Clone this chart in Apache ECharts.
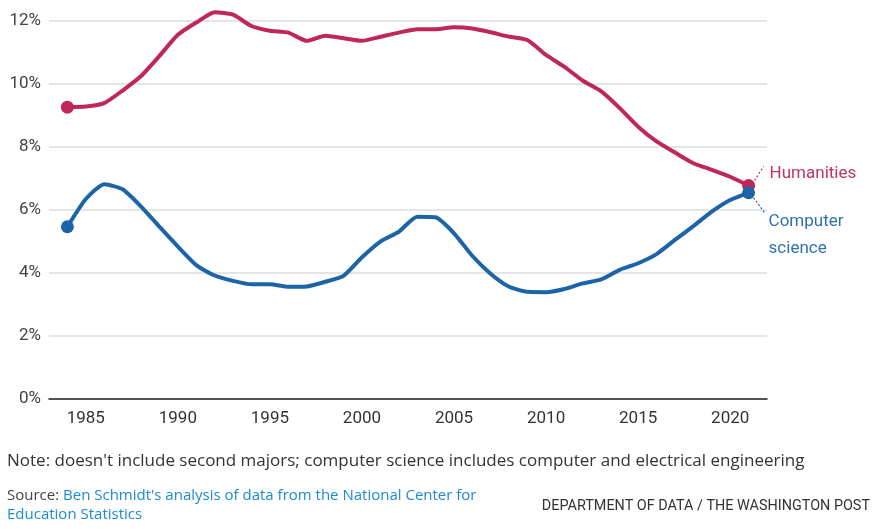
<!DOCTYPE html>
<html>
<head>
<meta charset="utf-8">
<script src="https://cdn.jsdelivr.net/npm/echarts@6/dist/echarts.min.js"></script>
<style>
html,body{margin:0;padding:0;background:#fff;}
#chart{width:877px;height:529px;}
</style>
</head>
<body>
<div id="chart"></div>
<script>
const years = [1984,1985,1986,1987,1988,1989,1990,1991,1992,1993,1994,1995,1996,1997,1998,1999,2000,2001,2002,2003,2004,2005,2006,2007,2008,2009,2010,2011,2012,2013,2014,2015,2016,2017,2018,2019,2020,2021];
const humanities = [9.26,9.28,9.39,9.79,10.25,10.89,11.56,11.95,12.28,12.20,11.84,11.69,11.63,11.37,11.53,11.45,11.37,11.50,11.63,11.74,11.74,11.80,11.76,11.64,11.50,11.39,10.92,10.54,10.10,9.76,9.23,8.64,8.17,7.82,7.48,7.27,7.05,6.77];
const computerScience = [5.46,6.34,6.81,6.65,6.10,5.46,4.83,4.24,3.91,3.74,3.63,3.63,3.55,3.56,3.71,3.90,4.49,4.99,5.30,5.78,5.76,5.25,4.53,3.96,3.55,3.39,3.38,3.48,3.66,3.79,4.09,4.30,4.59,5.04,5.48,5.94,6.31,6.54];
const xTickLabels = [1985,1990,1995,2000,2005,2010,2015,2020];
const yTicks = [0,2,4,6,8,10,12];
const seriesNames = ['Humanities','Computer science'];

const RED = '#bf275b';
const BLUE = '#1c63a8';
const FONT = 'Roboto, "Liberation Sans", sans-serif';
const FFONT = '"Open Sans", Roboto, sans-serif';

const chart = echarts.init(document.getElementById('chart'), null, {renderer:'canvas'});
const lastIdx = years.length - 1;
function pairs(vals){ return years.map((y,i)=>[y, vals[i]]); }
function endSize(v, p){ return (p.dataIndex === 0 || p.dataIndex === lastIdx) ? 13 : 0; }

chart.setOption({
  animation:false,
  backgroundColor:'#fff',
  grid:{left:49, right:110, top:21, bottom:130.5},
  xAxis:{
    type:'value', min:1983, max:2022,
    axisLine:{show:true, lineStyle:{color:'#222', width:1.5}},
    axisTick:{show:false},
    splitLine:{show:false},
    axisLabel:{customValues:xTickLabels, color:'#333', fontSize:17, fontFamily:FONT, margin:12, formatter:v=>String(v)}
  },
  yAxis:{
    type:'value', min:yTicks[0], max:yTicks[yTicks.length-1], interval:2,
    axisLine:{show:false}, axisTick:{show:false},
    splitLine:{show:true, lineStyle:{color:'#dcdcdc', width:1.5}},
    axisLabel:{color:'#444', fontSize:17, fontFamily:FONT, margin:8, formatter:v=>v+'%'}
  },
  series:[
    {name:seriesNames[0], type:'line', data:pairs(humanities), smooth:0.2, clip:false,
     lineStyle:{color:RED, width:4}, itemStyle:{color:RED}, symbol:'circle',
     symbolSize:endSize, showAllSymbol:true, z:3},
    {name:seriesNames[1], type:'line', data:pairs(computerScience), smooth:0.2, clip:false,
     lineStyle:{color:BLUE, width:4}, itemStyle:{color:BLUE}, symbol:'circle',
     symbolSize:endSize, showAllSymbol:true, z:4}
  ]
});

const hEnd = chart.convertToPixel({gridIndex:0}, [years[lastIdx], humanities[lastIdx]]);
const cEnd = chart.convertToPixel({gridIndex:0}, [years[lastIdx], computerScience[lastIdx]]);

chart.setOption({
  graphic:[
    {type:'line', shape:{x1:hEnd[0]+6, y1:hEnd[1]-5, x2:hEnd[0]+15, y2:hEnd[1]-19},
     style:{stroke:RED, lineWidth:1.2, lineDash:[2,2]}},
    {type:'line', shape:{x1:cEnd[0]+5, y1:cEnd[1]+5, x2:cEnd[0]+16, y2:cEnd[1]+20},
     style:{stroke:BLUE, lineWidth:1.2, lineDash:[2,2]}},
    {type:'text', x:hEnd[0]+21, y:hEnd[1]-12,
     style:{text:seriesNames[0], fill:'#c2335f', font:'17px '+FONT, textVerticalAlign:'middle'}},
    {type:'text', x:cEnd[0]+20, y:cEnd[1]+29,
     style:{text:'Computer', fill:'#2f70b5', font:'17px '+FONT, textVerticalAlign:'middle'}},
    {type:'text', x:cEnd[0]+20, y:cEnd[1]+56,
     style:{text:'science', fill:'#2f70b5', font:'17px '+FONT, textVerticalAlign:'middle'}},
    {type:'text', x:7, y:461,
     style:{text:"Note: doesn't include second majors; computer science includes computer and electrical engineering",
            fill:'#333', font:'17px '+FFONT, textVerticalAlign:'middle'}},
    {type:'text', x:7, y:495.5,
     style:{text:"{g|Source: }{b|Ben Schmidt's analysis of data from the National Center for}",
            font:'15px '+FFONT, textVerticalAlign:'middle',
            rich:{g:{fill:'#444', font:'15px '+FFONT}, b:{fill:'#1a8bd0', font:'15px '+FFONT}}}},
    {type:'text', x:7, y:515,
     style:{text:'Education Statistics', fill:'#1a8bd0', font:'15px '+FFONT, textVerticalAlign:'middle'}},
    {type:'text', x:870, y:506,
     style:{text:'DEPARTMENT OF DATA / THE WASHINGTON POST', fill:'#333', font:'14.4px '+FONT,
            textAlign:'right', textVerticalAlign:'middle'}}
  ]
});
</script>
</body>
</html>
